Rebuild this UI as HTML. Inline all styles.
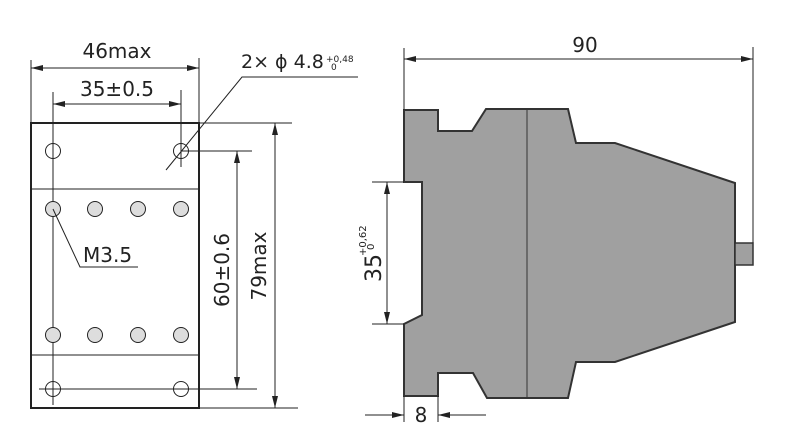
<!DOCTYPE html>
<html><head><meta charset="utf-8"><style>
html,body{margin:0;padding:0;background:#fff;}
svg{display:block;}
text{font-family:"DejaVu Sans","Liberation Sans",sans-serif;fill:#222;}
</style></head><body>
<svg width="790" height="439" viewBox="0 0 790 439" xmlns="http://www.w3.org/2000/svg">
<defs>
<marker id="a" viewBox="0 0 12 6" refX="12" refY="3" markerWidth="12" markerHeight="6" orient="auto-start-reverse" markerUnits="userSpaceOnUse">
<path d="M0,0 L12,3 L0,6 Z" fill="#222"/></marker>
</defs>
<g stroke="#222" fill="none">
<rect x="31" y="123" width="168" height="285" stroke-width="2"/>
<line x1="31" y1="189" x2="199" y2="189" stroke-width="1"/>
<line x1="31" y1="355" x2="199" y2="355" stroke-width="1"/>
<line x1="53" y1="92" x2="53" y2="405" stroke-width="1"/>
<line x1="181" y1="90" x2="181" y2="167" stroke-width="1"/>
<line x1="39" y1="389" x2="257" y2="389" stroke-width="1"/>
<line x1="181" y1="151" x2="252" y2="151" stroke-width="1"/>
<line x1="31" y1="60" x2="31" y2="123" stroke-width="1"/>
<line x1="199" y1="58" x2="199" y2="123" stroke-width="1"/>
<line x1="199" y1="123" x2="292" y2="123" stroke-width="1"/>
<line x1="199" y1="408" x2="298" y2="408" stroke-width="1"/>
<circle cx="53" cy="151" r="7.5" stroke-width="1"/>
<circle cx="181" cy="151" r="7.5" stroke-width="1"/>
<circle cx="53" cy="389" r="7.5" stroke-width="1"/>
<circle cx="181" cy="389" r="7.5" stroke-width="1"/>
<g fill="#ddd" stroke-width="1">
<circle cx="53" cy="209" r="7.5"/><circle cx="95" cy="209" r="7.5"/><circle cx="138" cy="209" r="7.5"/><circle cx="181" cy="209" r="7.5"/>
<circle cx="53" cy="335" r="7.5"/><circle cx="95" cy="335" r="7.5"/><circle cx="138" cy="335" r="7.5"/><circle cx="181" cy="335" r="7.5"/>
</g>
<line x1="31" y1="68" x2="199" y2="68" stroke-width="1" marker-start="url(#a)" marker-end="url(#a)"/>
<line x1="53" y1="104" x2="181" y2="104" stroke-width="1" marker-start="url(#a)" marker-end="url(#a)"/>
<line x1="237" y1="151" x2="237" y2="389" stroke-width="1" marker-start="url(#a)" marker-end="url(#a)"/>
<line x1="275" y1="123" x2="275" y2="408" stroke-width="1" marker-start="url(#a)" marker-end="url(#a)"/>
<polyline points="166,170 242,77 358,77" stroke-width="1"/>
<polyline points="53,209 80,267 138,267" stroke-width="1"/>
</g>
<text x="117" y="58" font-size="20" text-anchor="middle">46max</text>
<text x="117" y="96" font-size="20" text-anchor="middle">35±0.5</text>
<text x="241" y="68" font-size="19">2× ϕ 4.8</text>
<text x="326" y="62" font-size="9">+0,48</text>
<text x="331" y="70" font-size="9">0</text>
<text x="83" y="262" font-size="20">M3.5</text>
<text transform="translate(229,270) rotate(-90)" font-size="20" text-anchor="middle">60±0.6</text>
<text transform="translate(266,266) rotate(-90)" font-size="20" text-anchor="middle">79max</text>
<polygon points="404,110 438,110 438,131 472,131 486,109 568,109 576,143 615,143 735,183 735,322 615,362 576,362 568,398 487,398 473,373 438,373 438,396 404,396 404,324 422,315 422,182 404,182" fill="#a0a0a0" stroke="#333" stroke-width="2"/>
<line x1="527" y1="109" x2="527" y2="398" stroke="#333" stroke-width="1"/>
<rect x="735" y="243" width="18" height="22" fill="#a0a0a0" stroke="#333" stroke-width="1.5"/>
<g stroke="#222" stroke-width="1" fill="none">
<line x1="404" y1="48" x2="404" y2="110"/>
<line x1="753" y1="47" x2="753" y2="243"/>
<line x1="404" y1="59" x2="753" y2="59" marker-start="url(#a)" marker-end="url(#a)"/>
<line x1="372" y1="182" x2="404" y2="182"/>
<line x1="372" y1="324" x2="404" y2="324"/>
<line x1="387" y1="182" x2="387" y2="324" marker-start="url(#a)" marker-end="url(#a)"/>
<line x1="404" y1="396" x2="404" y2="422"/>
<line x1="438" y1="396" x2="438" y2="422"/>
<line x1="365" y1="415" x2="404" y2="415" marker-end="url(#a)"/>
<line x1="486" y1="415" x2="438" y2="415" marker-end="url(#a)"/>
</g>
<text x="585" y="52" font-size="20" text-anchor="middle">90</text>
<text transform="translate(381,282) rotate(-90)" font-size="22">35</text>
<text transform="translate(366,256) rotate(-90)" font-size="10">+0,62</text>
<text transform="translate(374,250) rotate(-90)" font-size="10">0</text>
<text x="421" y="422" font-size="20" text-anchor="middle">8</text>
</svg>
</body></html>
